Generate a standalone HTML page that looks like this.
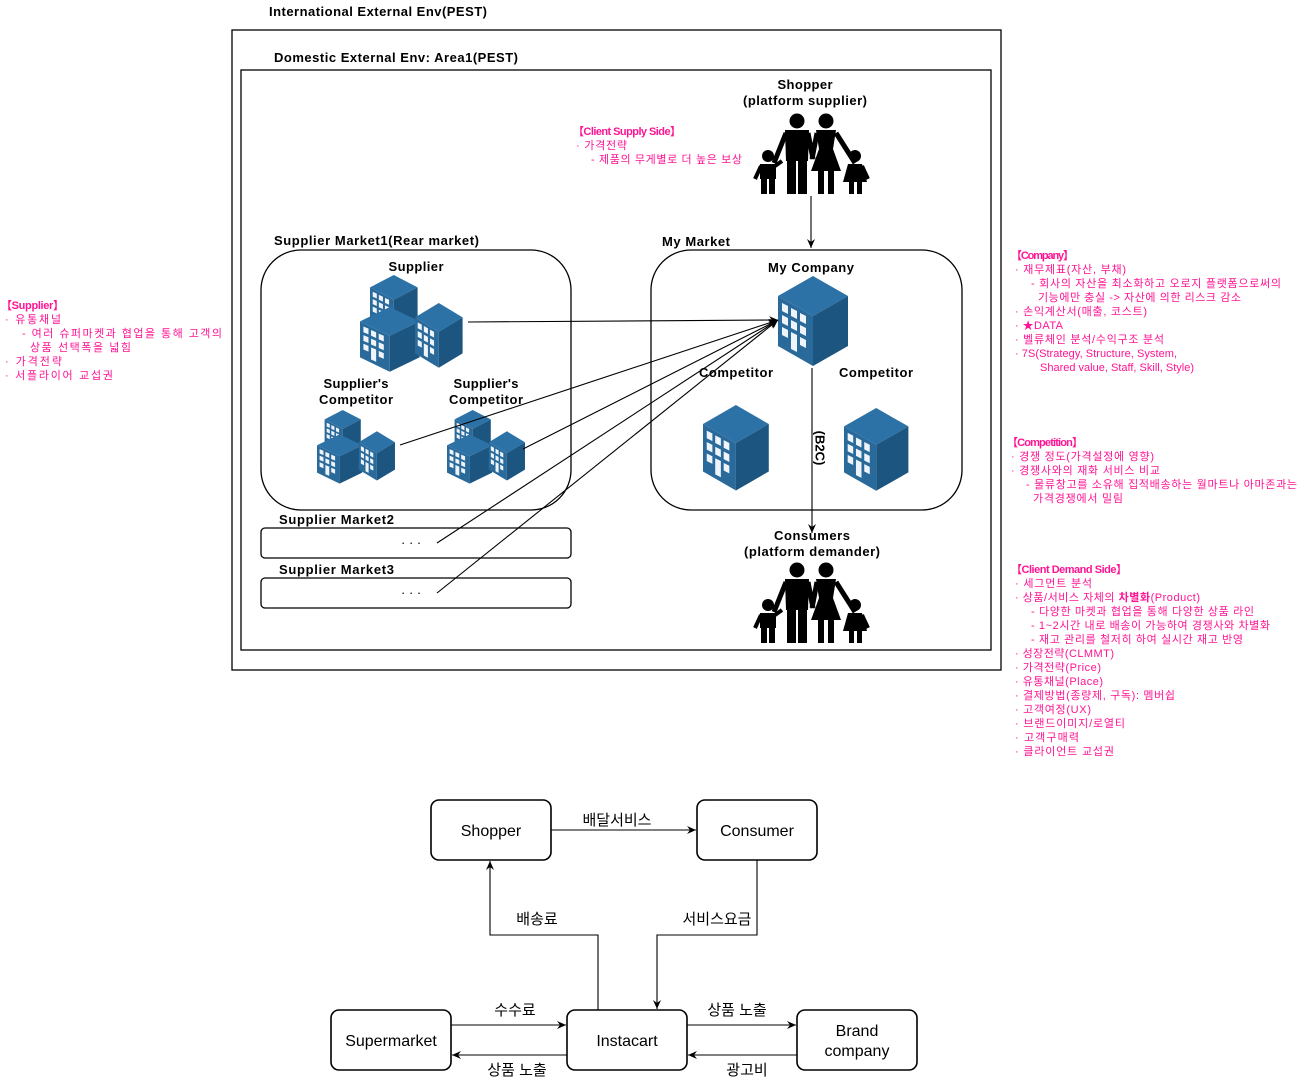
<!DOCTYPE html>
<html><head><meta charset="utf-8">
<style>
html,body{margin:0;padding:0;background:#fff;}
body{width:1309px;height:1081px;position:relative;overflow:hidden;}
svg{position:absolute;left:0;top:0;}
.b{font-family:"Liberation Sans","Noto Sans CJK KR",sans-serif;font-weight:bold;font-size:13px;fill:#000;}
.p{font-family:"Liberation Sans","Noto Sans CJK KR",sans-serif;font-size:11px;fill:#ff1493;}
.pb{font-family:"Liberation Sans","Noto Sans CJK KR",sans-serif;font-size:11px;font-weight:bold;fill:#ff1493;}
.n{font-family:"Liberation Sans","Noto Sans CJK KR",sans-serif;font-size:16px;fill:#000;}
.k{font-family:"Liberation Sans","Noto Sans CJK KR",sans-serif;font-size:15px;fill:#000;}
</style></head><body>
<svg width="1309" height="1081" viewBox="0 0 1309 1081" xmlns="http://www.w3.org/2000/svg">
<defs>
<marker id="ar" markerWidth="10" markerHeight="10" refX="9" refY="5" orient="auto" markerUnits="userSpaceOnUse">
<path d="M0,1 L9,5 L0,9 L3,5 Z" fill="#000"/>
</marker>
<g id="cube">
<polygon points="35,0 70,20 35,40 0,20" fill="#2d72a6"/>
<polygon points="0,20 35,40 35,90 0,70" fill="#2a6a9b"/>
<polygon points="35,40 70,20 70,70 35,90" fill="#1c5580"/>
<g fill="#eef4fa">
<polygon points="4,27 10,30 10,38 4,35"/><polygon points="13,32 19,35 19,43 13,40"/><polygon points="22,37 28,40 28,48 22,45"/>
<polygon points="4,39 10,42 10,50 4,47"/><polygon points="13,44 19,47 19,55 13,52"/><polygon points="22,49 28,52 28,60 22,57"/>
<polygon points="4,51 10,54 10,62 4,59"/><polygon points="13,56 19,59 19,76 13,73"/><polygon points="22,61 28,64 28,72 22,69"/>
</g>
</g>
<g id="cluster">
<use href="#cube" transform="translate(10,0) scale(0.68,0.62)"/>
<use href="#cube" transform="translate(0,32) scale(0.85,0.72)"/>
<use href="#cube" transform="translate(55,28) scale(0.68,0.72)"/>
</g>
<g id="family" fill="#000" stroke="#000">
<circle cx="45" cy="8" r="7.5" stroke="none"/>
<polygon points="33,17 57,17 56,48 34,48" stroke="none"/>
<rect x="35" y="47" width="9" height="34" stroke="none"/>
<rect x="46" y="47" width="9" height="34" stroke="none"/>
<line x1="34" y1="20" x2="22" y2="50" stroke-width="5"/>
<line x1="56" y1="20" x2="61" y2="46" stroke-width="5"/>
<circle cx="74" cy="8" r="7.5" stroke="none"/>
<polygon points="64,17 84,17 81,36 89,58 59,58 67,36" stroke="none"/>
<rect x="66" y="57" width="6" height="24" stroke="none"/>
<rect x="76" y="57" width="6" height="24" stroke="none"/>
<line x1="65" y1="20" x2="60" y2="46" stroke-width="5"/>
<line x1="84" y1="20" x2="103" y2="50" stroke-width="5"/>
<circle cx="16" cy="43" r="6" stroke="none"/>
<rect x="8" y="51" width="16" height="15" stroke="none"/>
<rect x="9" y="64" width="6" height="17" stroke="none"/>
<rect x="17" y="64" width="6" height="17" stroke="none"/>
<line x1="9" y1="53" x2="3" y2="66" stroke-width="4"/>
<line x1="23" y1="53" x2="30" y2="48" stroke-width="4"/>
<circle cx="103" cy="43" r="6" stroke="none"/>
<polygon points="96,51 110,51 115,69 91,69" stroke="none"/>
<rect x="97" y="67" width="5" height="14" stroke="none"/>
<rect x="105" y="67" width="5" height="14" stroke="none"/>
<line x1="110" y1="53" x2="116" y2="66" stroke-width="4"/>
</g>
</defs>

<!-- outer frames -->
<text class="b" x="269" y="16" textLength="218" lengthAdjust="spacing">International External Env(PEST)</text>
<rect x="232" y="30" width="769" height="640" fill="none" stroke="#000" stroke-width="1.3"/>
<text class="b" x="274" y="62" textLength="244" lengthAdjust="spacing">Domestic External Env: Area1(PEST)</text>
<rect x="241" y="70" width="750" height="580" fill="none" stroke="#000" stroke-width="1.3"/>

<!-- Supplier market 1 -->
<text class="b" x="274" y="245" textLength="205" lengthAdjust="spacing">Supplier  Market1(Rear market)</text>
<rect x="261" y="250" width="310" height="260" rx="40" fill="none" stroke="#000" stroke-width="1.3"/>
<text class="b" x="416" y="271" text-anchor="middle" textLength="55" lengthAdjust="spacing">Supplier</text>
<use href="#cluster" transform="translate(360,275)"/>
<text class="b" x="356" y="388" text-anchor="middle" textLength="65" lengthAdjust="spacing">Supplier's</text>
<text class="b" x="356" y="404" text-anchor="middle" textLength="74" lengthAdjust="spacing">Competitor</text>
<text class="b" x="486" y="388" text-anchor="middle" textLength="65" lengthAdjust="spacing">Supplier's</text>
<text class="b" x="486" y="404" text-anchor="middle" textLength="74" lengthAdjust="spacing">Competitor</text>
<use href="#cluster" transform="translate(317,410) scale(0.76)"/>
<use href="#cluster" transform="translate(447,410) scale(0.76)"/>

<text class="b" x="279" y="524" textLength="115" lengthAdjust="spacing">Supplier  Market2</text>
<rect x="261" y="528" width="310" height="30" rx="4" fill="none" stroke="#000" stroke-width="1.3"/>
<text class="b" x="401" y="547" style="font-weight:normal">·  ·  ·</text>
<text class="b" x="279" y="574" textLength="115" lengthAdjust="spacing">Supplier  Market3</text>
<rect x="261" y="578" width="310" height="30" rx="4" fill="none" stroke="#000" stroke-width="1.3"/>
<text class="b" x="401" y="597" style="font-weight:normal">·  ·  ·</text>

<!-- My market -->
<text class="b" x="662" y="246" textLength="68" lengthAdjust="spacing">My Market</text>
<rect x="651" y="250" width="311" height="260" rx="40" fill="none" stroke="#000" stroke-width="1.3"/>
<text class="b" x="811" y="272" text-anchor="middle" textLength="86" lengthAdjust="spacing">My Company</text>
<use href="#cube" transform="translate(778,276)"/>
<text class="b" x="736" y="377" text-anchor="middle" textLength="74" lengthAdjust="spacing">Competitor</text>
<text class="b" x="876" y="377" text-anchor="middle" textLength="74" lengthAdjust="spacing">Competitor</text>
<use href="#cube" transform="translate(703,405) scale(0.94,0.95)"/>
<use href="#cube" transform="translate(844,408) scale(0.92,0.92)"/>

<!-- connectors to my company -->
<g stroke="#000" stroke-width="1.1" fill="none" marker-end="url(#ar)">
<line x1="468" y1="322" x2="778" y2="320"/>
<line x1="400" y1="445" x2="778" y2="320"/>
<line x1="523" y1="449" x2="778" y2="320"/>
<line x1="437" y1="543" x2="778" y2="320"/>
<line x1="437" y1="593" x2="778" y2="320"/>
<line x1="811" y1="196" x2="811" y2="248"/>
<line x1="812" y1="368" x2="812" y2="533"/>
</g>
<text class="b" x="820" y="448" text-anchor="middle" transform="rotate(90 820 448)" dominant-baseline="central">(B2C)</text>

<!-- shopper / consumers -->
<text class="b" x="805" y="89" text-anchor="middle" textLength="55" lengthAdjust="spacing">Shopper</text>
<text class="b" x="805" y="105" text-anchor="middle" textLength="124" lengthAdjust="spacing">(platform supplier)</text>
<use href="#family" transform="translate(752,113)"/>
<text class="b" x="812" y="540" text-anchor="middle" textLength="76" lengthAdjust="spacing">Consumers</text>
<text class="b" x="812" y="556" text-anchor="middle" textLength="136" lengthAdjust="spacing">(platform demander)</text>
<use href="#family" transform="translate(752,562)"/>

<!-- pink notes -->
<text class="pb" x="573" y="135" textLength="108" lengthAdjust="spacing">【Client Supply Side】</text>
<text class="p" x="576" y="149" textLength="51" lengthAdjust="spacing">· 가격전략</text>
<text class="p" x="591" y="163" textLength="151" lengthAdjust="spacing">- 제품의 무게별로 더 높은 보상</text>

<text class="pb" x="1" y="309" textLength="63" lengthAdjust="spacing">【Supplier】</text>
<text class="p" x="5" y="323" textLength="56" lengthAdjust="spacing">· 유통채널</text>
<text class="p" x="22" y="337" textLength="200" lengthAdjust="spacing">- 여러 슈퍼마켓과 협업을 통해 고객의</text>
<text class="p" x="30" y="351" textLength="101" lengthAdjust="spacing">상품 선택폭을 넓힘</text>
<text class="p" x="5" y="365" textLength="57" lengthAdjust="spacing">· 가격전략</text>
<text class="p" x="5" y="379" textLength="108" lengthAdjust="spacing">· 서플라이어 교섭권</text>

<text class="pb" x="1011" y="259" textLength="63" lengthAdjust="spacing">【Company】</text>
<text class="p" x="1015" y="273" textLength="111" lengthAdjust="spacing">· 재무제표(자산, 부채)</text>
<text class="p" x="1031" y="287" textLength="250" lengthAdjust="spacing">- 회사의 자산을 최소화하고 오로지 플랫폼으로써의</text>
<text class="p" x="1038" y="301" textLength="203" lengthAdjust="spacing">기능에만 충실 -&gt; 자산에 의한 리스크 감소</text>
<text class="p" x="1015" y="315" textLength="132" lengthAdjust="spacing">· 손익계산서(매출, 코스트)</text>
<text class="p" x="1015" y="329" textLength="48" lengthAdjust="spacing">· ★DATA</text>
<text class="p" x="1015" y="343" textLength="149" lengthAdjust="spacing">· 벨류체인 분석/수익구조 분석</text>
<text class="p" x="1015" y="357" textLength="162" lengthAdjust="spacing">· 7S(Strategy, Structure, System,</text>
<text class="p" x="1040" y="371" textLength="154" lengthAdjust="spacing">Shared value, Staff, Skill, Style)</text>

<text class="pb" x="1007" y="446" textLength="76" lengthAdjust="spacing">【Competition】</text>
<text class="p" x="1011" y="460" textLength="143" lengthAdjust="spacing">· 경쟁 정도(가격설정에 영향)</text>
<text class="p" x="1011" y="474" textLength="149" lengthAdjust="spacing">· 경쟁사와의 재화 서비스 비교</text>
<text class="p" x="1026" y="488" textLength="271" lengthAdjust="spacing">- 물류창고를 소유해 집적배송하는 월마트나 아마존과는</text>
<text class="p" x="1033" y="502" textLength="90" lengthAdjust="spacing">가격경쟁에서 밀림</text>

<text class="pb" x="1011" y="573" textLength="116" lengthAdjust="spacing">【Client Demand Side】</text>
<text class="p" x="1015" y="587" textLength="77" lengthAdjust="spacing">· 세그먼트 분석</text>
<text class="p" x="1015" y="601" textLength="185" lengthAdjust="spacing">· 상품/서비스 자체의 <tspan font-weight="bold">차별화</tspan>(Product)</text>
<text class="p" x="1031" y="615" textLength="223" lengthAdjust="spacing">- 다양한 마켓과 협업을 통해 다양한 상품 라인</text>
<text class="p" x="1031" y="629" textLength="239" lengthAdjust="spacing">- 1~2시간 내로 배송이 가능하여 경쟁사와 차별화</text>
<text class="p" x="1031" y="643" textLength="212" lengthAdjust="spacing">- 재고 관리를 철저히 하여 실시간 재고 반영</text>
<text class="p" x="1015" y="657" textLength="99" lengthAdjust="spacing">· 성장전략(CLMMT)</text>
<text class="p" x="1015" y="671" textLength="86" lengthAdjust="spacing">· 가격전략(Price)</text>
<text class="p" x="1015" y="685" textLength="88" lengthAdjust="spacing">· 유통채널(Place)</text>
<text class="p" x="1015" y="699" textLength="160" lengthAdjust="spacing">· 결제방법(종량제, 구독): 멤버쉽</text>
<text class="p" x="1015" y="713" textLength="76" lengthAdjust="spacing">· 고객여정(UX)</text>
<text class="p" x="1015" y="727" textLength="110" lengthAdjust="spacing">· 브랜드이미지/로열티</text>
<text class="p" x="1015" y="741" textLength="64" lengthAdjust="spacing">· 고객구매력</text>
<text class="p" x="1015" y="755" textLength="99" lengthAdjust="spacing">· 클라이언트 교섭권</text>

<!-- bottom diagram -->
<g fill="#fff" stroke="#000" stroke-width="1.6">
<rect x="431" y="800" width="120" height="60" rx="8"/>
<rect x="697" y="800" width="120" height="60" rx="8"/>
<rect x="331" y="1010" width="120" height="60" rx="8"/>
<rect x="567" y="1010" width="120" height="60" rx="8"/>
<rect x="797" y="1010" width="120" height="60" rx="8"/>
</g>
<text class="n" x="491" y="836" text-anchor="middle">Shopper</text>
<text class="n" x="757" y="836" text-anchor="middle">Consumer</text>
<text class="n" x="391" y="1046" text-anchor="middle">Supermarket</text>
<text class="n" x="627" y="1046" text-anchor="middle">Instacart</text>
<text class="n" x="857" y="1036" text-anchor="middle">Brand</text>
<text class="n" x="857" y="1056" text-anchor="middle">company</text>

<g stroke="#000" stroke-width="1.1" fill="none" marker-end="url(#ar)">
<line x1="551" y1="830" x2="696" y2="830"/>
<polyline points="598,1010 598,935 490,935 490,861"/>
<polyline points="757,860 757,935 657,935 657,1009"/>
<line x1="451" y1="1025" x2="566" y2="1025"/>
<line x1="567" y1="1055" x2="452" y2="1055"/>
<line x1="687" y1="1025" x2="796" y2="1025"/>
<line x1="797" y1="1055" x2="688" y2="1055"/>
</g>
<text class="k" x="617" y="825" text-anchor="middle">배달서비스</text>
<text class="k" x="537" y="924" text-anchor="middle">배송료</text>
<text class="k" x="717" y="924" text-anchor="middle">서비스요금</text>
<text class="k" x="515" y="1015" text-anchor="middle">수수료</text>
<text class="k" x="517" y="1075" text-anchor="middle">상품 노출</text>
<text class="k" x="737" y="1015" text-anchor="middle">상품 노출</text>
<text class="k" x="747" y="1075" text-anchor="middle">광고비</text>
</svg>
</body></html>
